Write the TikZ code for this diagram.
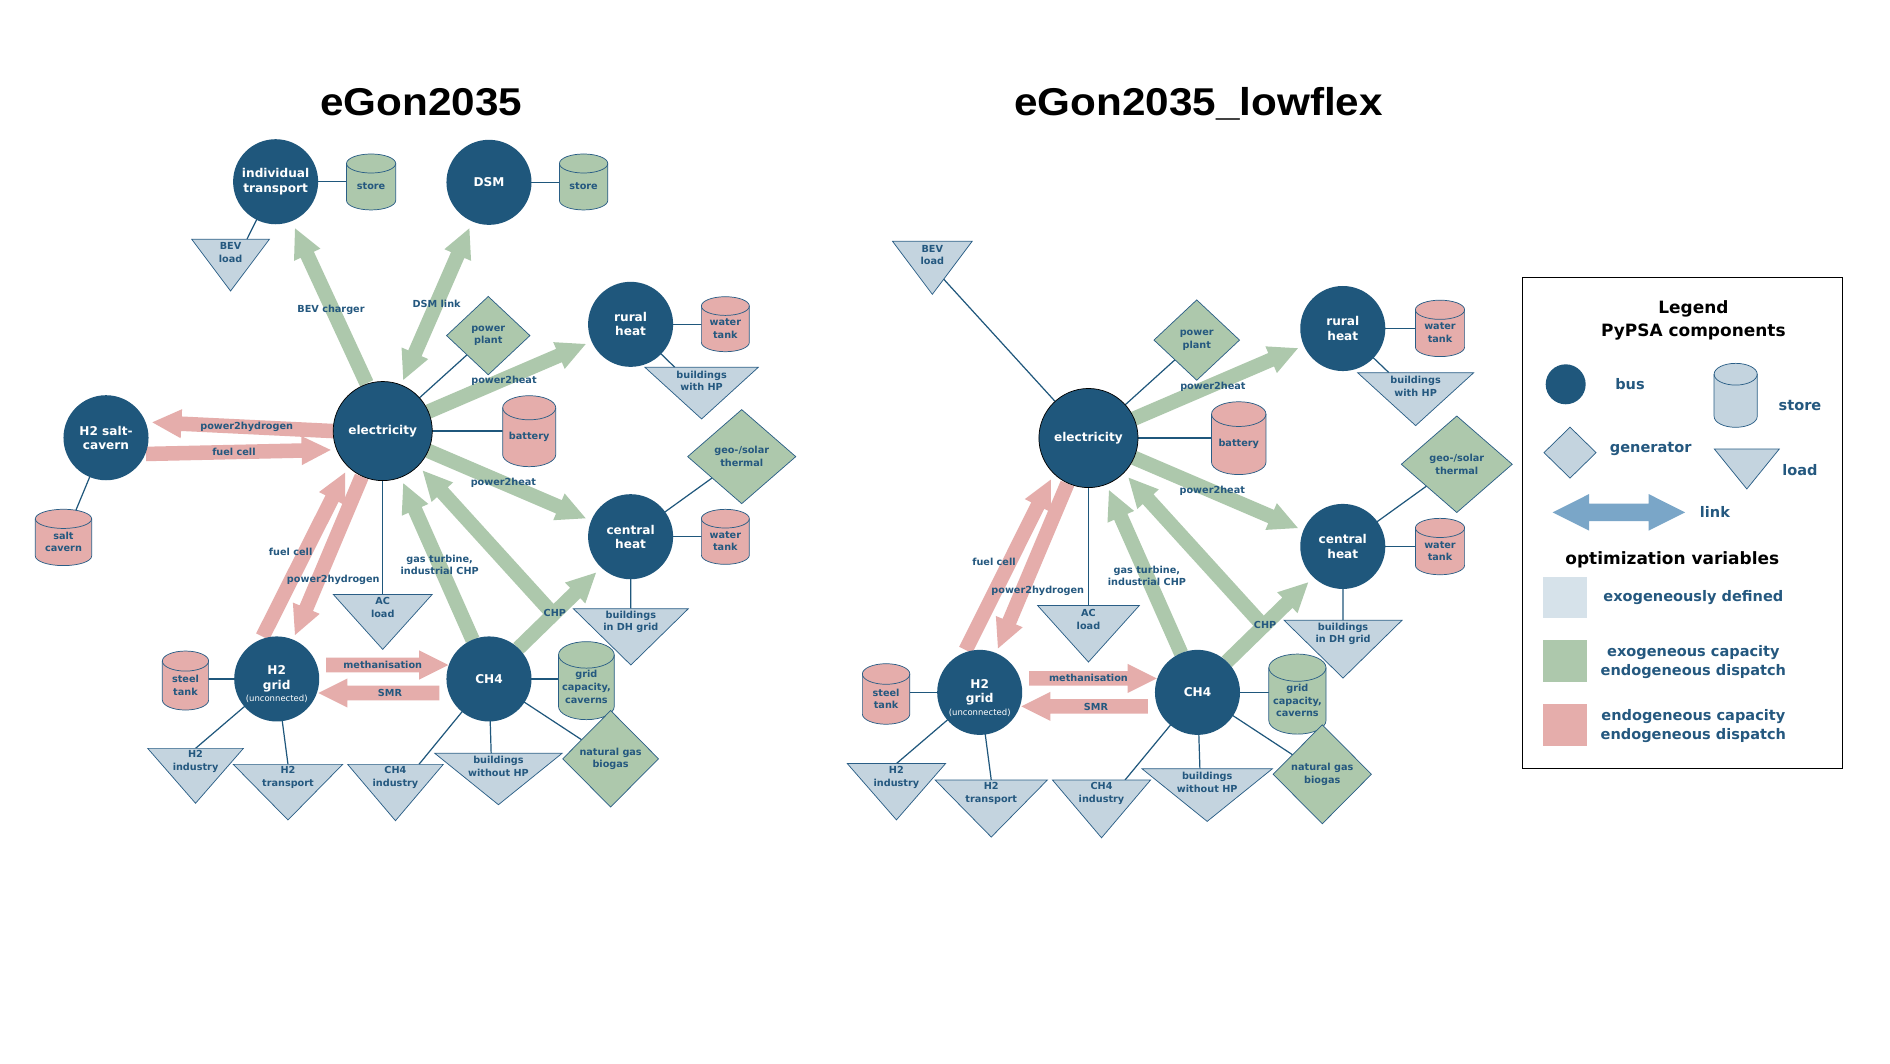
\documentclass[tikz,border=0pt]{standalone}
\usepackage{fontspec}
\setmainfont{DejaVu Sans}
\newfontfamily\titlefont{Liberation Sans}
\usetikzlibrary{calc}
\pgfdeclarelayer{background}
\pgfsetlayers{background,main}
\definecolor{busc}{HTML}{1F577C}
\definecolor{grnc}{HTML}{ADC8AC}
\definecolor{redc}{HTML}{E5ADAB}
\definecolor{loadc}{HTML}{C4D4DF}
\definecolor{txtc}{HTML}{24587F}
\definecolor{linkc}{HTML}{7AA6C8}
\definecolor{exoc}{HTML}{D6E2EA}
\definecolor{linec}{HTML}{2A5E86}
\tikzset{
  bus/.style={circle, fill=busc, minimum size=70.2pt, inner sep=0pt, text=white, align=center,
    font=\fontsize{10}{11.8}\selectfont\bfseries},
  complabel/.style={inner sep=0pt, text=txtc, align=center, font=\fontsize{8}{10.4}\selectfont\bfseries},
  lnk/.style={inner sep=0pt, text=txtc, align=center, font=\fontsize{8}{9.6}\selectfont\bfseries},
  shapeline/.style={draw=linec, line width=0.6pt},
  conn/.style={draw=busc, line width=1pt},
  lgtxt/.style={inner sep=0pt, text=txtc, align=center, font=\fontsize{12}{15.7}\selectfont\bfseries},
  lghead/.style={inner sep=0pt, text=black, align=center, font=\fontsize{14}{18.5}\selectfont\bfseries},
}
% cylinder: name, cx, cy (down), w, h, fill, text
\newcommand\cylnode[7]{%
  \pgfmathsetmacro\cw{#4/2}\pgfmathsetmacro\chh{#5/2}\pgfmathsetmacro\cry{0.17*#5}%
  \filldraw[shapeline, fill=#6] (#2-\cw, -#3+\chh-\cry) arc[start angle=180, end angle=0, x radius=\cw pt, y radius=\cry pt]
    -- (#2+\cw, -#3-\chh+\cry) arc[start angle=0, end angle=-180, x radius=\cw pt, y radius=\cry pt] -- cycle;
  \draw[shapeline] (#2-\cw, -#3+\chh-\cry) arc[start angle=180, end angle=360, x radius=\cw pt, y radius=\cry pt];
  \node[complabel] (#1) at (#2, -#3-0.08*#5) {#7};
}
% diamond: name, cx, cy, hw, hh, fill, text
\newcommand\dianode[7]{%
  \filldraw[shapeline, fill=#6] (#2-#4,-#3) -- (#2,-#3+#5) -- (#2+#4,-#3) -- (#2,-#3-#5) -- cycle;
  \node[complabel] (#1) at (#2,-#3) {#7};
}
% triangle: name, cx, top, w, apex, text
\newcommand\trinode[6]{%
  \filldraw[shapeline, fill=loadc] (#2-#4/2, -#3) -- (#2+#4/2, -#3) -- (#2, -#5) -- cycle;
  \coordinate (#1-top) at (#2, -#3);
  \node[complabel] (#1) at (#2, -#3-11) {#6};
}
% fat arrow: start, tip, colour
\newcommand\fatarr[3]{%
  \coordinate (fa-a) at #1; \coordinate (fa-b) at #2;
  \coordinate (fa-h) at ($(fa-b)!24pt!(fa-a)$);
  \fill[#3] ($(fa-a)!6pt!90:(fa-b)$) -- ($(fa-h)!6pt!-90:(fa-a)$) -- ($(fa-h)!12pt!-90:(fa-a)$) -- (fa-b)
    -- ($(fa-h)!12pt!90:(fa-a)$) -- ($(fa-h)!6pt!90:(fa-a)$) -- ($(fa-a)!6pt!-90:(fa-b)$) -- cycle;
}
\newcommand\fatdbl[3]{%
  \coordinate (fa-a) at #1; \coordinate (fa-b) at #2;
  \coordinate (fa-h) at ($(fa-b)!24pt!(fa-a)$);
  \coordinate (fa-g) at ($(fa-a)!24pt!(fa-b)$);
  \fill[#3] (fa-a) -- ($(fa-g)!12pt!90:(fa-b)$) -- ($(fa-g)!6pt!90:(fa-b)$) -- ($(fa-h)!6pt!-90:(fa-a)$)
    -- ($(fa-h)!12pt!-90:(fa-a)$) -- (fa-b) -- ($(fa-h)!12pt!90:(fa-a)$) -- ($(fa-h)!6pt!90:(fa-a)$)
    -- ($(fa-g)!6pt!-90:(fa-b)$) -- ($(fa-g)!12pt!-90:(fa-b)$) -- cycle;
}
\newcommand\commonnodes[1]{%
  \node[bus, draw=black, line width=0.6pt, minimum size=81.8pt] (#1el) at (315.9,-355.8) {electricity};
  \node[bus] (#1rur) at (520.5,-267.7) {rural\\heat};
  \node[bus] (#1cen) at (520.5,-443) {central\\heat};
  \node[bus] (#1h2g) at (228.4,-560.4) {H2\\grid};
  \node[inner sep=0pt, text=white, font=\fontsize{7}{8}\selectfont] (#1h2gu) at (228.4,-577.2) {(unconnected)};
  \node[bus] (#1ch4) at (403.6,-560.4) {CH4};
  \cylnode{#1wt1}{598.7}{267.6}{39.6}{45.4}{redc}{water\\tank}
  \cylnode{#1bat}{436.8}{355.9}{43.8}{58.6}{redc}{battery}
  \cylnode{#1wt2}{598.7}{443.1}{39.6}{45.4}{redc}{water\\tank}
  \cylnode{#1steel}{153.1}{561.7}{38.2}{48.7}{redc}{steel\\tank}
  \cylnode{#1gridc}{484}{561.8}{46}{64.4}{grnc}{grid\\capacity,\\caverns}
  \dianode{#1pp}{403}{277}{34.4}{32.3}{grnc}{power\\plant}
  \dianode{#1geo}{612.2}{376.9}{44.6}{38.8}{grnc}{geo-/solar\\thermal}
  \dianode{#1ng}{504}{626.3}{39.5}{39.8}{grnc}{natural gas\\biogas}
  \trinode{#1bevl}{190.3}{197.5}{64.1}{240.2}{BEV\\load}
  \trinode{#1bhp}{579.1}{303.2}{93.5}{345.8}{buildings\\with HP}
  \trinode{#1acl}{315.9}{490.6}{81.7}{536}{AC\\load}
  \trinode{#1bdh}{520.7}{502.4}{94.9}{548.9}{buildings\\in DH grid}
  \trinode{#1h2i}{161.4}{617.7}{79}{663}{H2\\industry}
  \trinode{#1h2t}{237.7}{630.9}{90.3}{676.8}{H2\\transport}
  \trinode{#1ch4i}{326.4}{630.9}{78.9}{677.4}{CH4\\industry}
  \trinode{#1bwo}{411.4}{621.8}{105}{664.2}{buildings\\without HP}
  \node[lnk] (#1lp2hr) at (416,-314.5) {power2heat};
  \node[lnk] (#1lp2hc) at (415.5,-398.4) {power2heat};
  \node[lnk] (#1lfc) at (239.9,-455.4) {fuel cell};
  \node[lnk] (#1lp2h2) at (275.1,-478.7) {power2hydrogen};
  \node[lnk] (#1lgt) at (362.9,-466.5) {gas turbine,\\industrial CHP};
  \node[lnk] (#1lchp) at (458,-506) {CHP};
  \node[lnk] (#1lmeth) at (315.9,-548.9) {methanisation};
  \node[lnk] (#1lsmr) at (321.9,-572.3) {SMR};
}
\newcommand\commonedges[1]{%
  \draw[conn] (#1el.center) -- (#1pp.center);
  \draw[conn] (#1el.center) -- (#1el.center -| #1bat.center);
  \draw[conn] (#1rur.center) -- (#1rur.center -| #1wt1.center);
  \draw[conn] (#1rur.center) -- ($(#1bhp-top)+(-22.1,0)$);
  \draw[conn] (#1cen.center) -- (#1geo.center);
  \draw[conn] (#1cen.center) -- (#1cen.center -| #1wt2.center);
  \draw[conn] (#1cen.center) -- (#1bdh-top);
  \draw[conn] (#1el.center) -- (#1acl-top);
  \draw[conn] (#1h2g.center) -- (#1h2g.center -| #1steel.center);
  \draw[conn] (#1h2g.center) -- (#1h2i-top);
  \draw[conn] (#1h2g.center) -- (#1h2t-top);
  \draw[conn] (#1ch4.center) -- (#1ch4.center -| #1gridc.center);
  \draw[conn] (#1ch4.center) -- ($(#1ch4i-top)+(19.4,0)$);
  \draw[conn] (#1ch4.center) -- ($(#1bwo-top)+(-6,0)$);
  \draw[conn] (#1ch4.center) -- (#1ng.center);
  \fatarr{($(#1el)+(23.05:40.9)$)}{($(#1rur)+(-156.3:40.5)$)}{grnc}
  \fatarr{($(#1el)+(-23.5:41)$)}{($(#1cen)+(157.7:40.1)$)}{grnc}
  \fatarr{($(#1h2g)+(108.4:36.8)$)}{($(#1el)+(227.8:46.3)$)}{redc}
  \fatarr{($(#1el)+(245.2:41.4)$)}{($(#1h2g)+(67.4:39.3)$)}{redc}
  \fatarr{($(#1ch4)+(112.7:35)$)}{($(#1el)+(291.5:46.3)$)}{grnc}
  \coordinate (#1chpa) at ($(#1ch4)+(46.2:35)$);
  \coordinate (#1chpb) at ($(#1cen)+(226.1:41.2)$);
  \fatarr{(#1chpa)}{(#1chpb)}{grnc}
  \fatarr{($(#1chpa)!0.45!(#1chpb)$)}{($(#1el)+(315.3:46.5)$)}{grnc}
  \fatarr{($(#1h2g)+(15.8:42.3)$)}{($(#1ch4)+(161.1:35.5)$)}{redc}
  \fatarr{($(#1ch4)+(195.8:42.6)$)}{($(#1h2g)+(-18.6:36.3)$)}{redc}
}
\begin{document}
\begin{tikzpicture}[x=1pt,y=1pt]
\useasboundingbox (0,0) rectangle (1560,-877.4);
\begin{pgfonlayer}{background}
\fill[white] (0,0) rectangle (1560,-877.4);
\end{pgfonlayer}
% titles
\node[anchor=base, inner sep=0pt, font=\titlefont\bfseries\fontsize{32}{38}\selectfont] (t1) at (347.8,-95.7) {\scalebox{1.09}[1]{eGon2035}};
\node[anchor=base, inner sep=0pt, font=\titlefont\bfseries\fontsize{32}{38}\selectfont] (t2) at (989.3,-95.7) {\scalebox{1.09}[1]{eGon2035\_lowflex}};
% ---------- left network ----------
\commonnodes{L}
\node[bus] (Litr) at (227.5,-150) {individual\\transport};
\node[bus] (Ldsm) at (403.6,-150.5) {DSM};
\node[bus] (Lsalt) at (87.5,-361.3) {H2 salt-\\cavern};
\cylnode{Lst1}{306.3}{150.2}{40.6}{46.2}{grnc}{store}
\cylnode{Lst2}{481.7}{150.2}{39.9}{46.2}{grnc}{store}
\cylnode{Lsaltc}{52.4}{443.6}{46.5}{46.5}{redc}{salt\\cavern}
\node[lnk] (Llbev) at (273.2,-256.1) {BEV charger};
\node[lnk] (Lldsm) at (360.4,-250.7) {DSM link};
\node[lnk] (Llp2hs) at (203.6,-352.2) {power2hydrogen};
\node[lnk] (Llfcs) at (193.1,-373.1) {fuel cell};
% ---------- right network ----------
\begin{scope}[shift={(574.3,3.5)}, scale=1.026]
\commonnodes{R}
\end{scope}
% ---------- connectors ----------
\begin{pgfonlayer}{background}
\commonedges{L}
\draw[conn] (Litr.center) -- (Litr.center -| Lst1.center);
\draw[conn] (Ldsm.center) -- (Ldsm.center -| Lst2.center);
\draw[conn] (Litr.center) -- ($(Lbevl-top)+(13.5,0)$);
\draw[conn] (Lsalt.center) -- ($(Lsaltc)+(10.3,26.3)$);
\fatarr{($(Lel)+(108.65:41.6)$)}{($(Litr)+(-67.4:41.7)$)}{grnc}
\fatdbl{($(Ldsm)+(-113.1:41.3)$)}{($(Lel)+(68.1:45.5)$)}{grnc}
\fatarr{($(Lel)+(180:40.9)$)}{($(Lsalt)+(18.4:40.3)$)}{redc}
\fatarr{($(Lsalt)+(-22.1:35.6)$)}{($(Lel)+(199.9:45.7)$)}{redc}
\commonedges{R}
\draw[conn] (Rel.center) -- ($(Rbevl-top)+(9.2,-31.1)$);
\end{pgfonlayer}
% ---------- legend ----------
\node[draw=black, line width=1.3pt, minimum width=264.1pt, minimum height=405.3pt, inner sep=0pt] (legend) at (1388.85,-431.55) {};
\node[lghead] (lgh1) at (1397.7,-255.3) {Legend};
\node[lghead] (lgh2) at (1397.7,-273.8) {PyPSA components};
\node[circle, fill=busc, minimum size=33pt, inner sep=0pt] (lgbus) at (1292.3,-317.2) {};
\node[lgtxt] (lgbust) at (1345.4,-317.2) {bus};
\cylnode{lgstore}{1432.6}{326.3}{35.6}{52.8}{loadc}{}
\node[lgtxt] (lgstoret) at (1485.7,-335.1) {store};
\dianode{lggen}{1295.9}{373.6}{21.5}{21}{loadc}{}
\node[lgtxt] (lggent) at (1362.5,-370.6) {generator};
\trinode{lgload}{1441.8}{370.6}{53.6}{403.6}{}
\node[lgtxt] (lgloadt) at (1485.7,-387.9) {load};
\fill[linkc] (1281.6,-422.9) -- (1311.6,-407.8) -- (1311.6,-415.7) -- (1360.8,-415.7) -- (1360.8,-407.8)
  -- (1390.8,-422.9) -- (1360.8,-438) -- (1360.8,-430.1) -- (1311.6,-430.1) -- (1311.6,-438) -- cycle;
\node[lgtxt] (lglinkt) at (1415.5,-422.9) {link};
\node[lghead] (lgh3) at (1380.3,-462.2) {optimization variables};
\node[fill=exoc, minimum width=35.8pt, minimum height=33.8pt, inner sep=0pt] (sq1) at (1291.7,-492.9) {};
\node[fill=grnc, minimum width=35.8pt, minimum height=34.4pt, inner sep=0pt] (sq2) at (1291.7,-545.5) {};
\node[fill=redc, minimum width=35.8pt, minimum height=34.5pt, inner sep=0pt] (sq3) at (1291.7,-598.55) {};
\node[lgtxt] (sq1t) at (1397.7,-493.3) {exogeneously defined};
\node[lgtxt] (sq2t) at (1397.7,-546.25) {exogeneous capacity\\endogeneous dispatch};
\node[lgtxt] (sq3t) at (1397.7,-599.4) {endogeneous capacity\\endogeneous dispatch};
\end{tikzpicture}
\end{document}
